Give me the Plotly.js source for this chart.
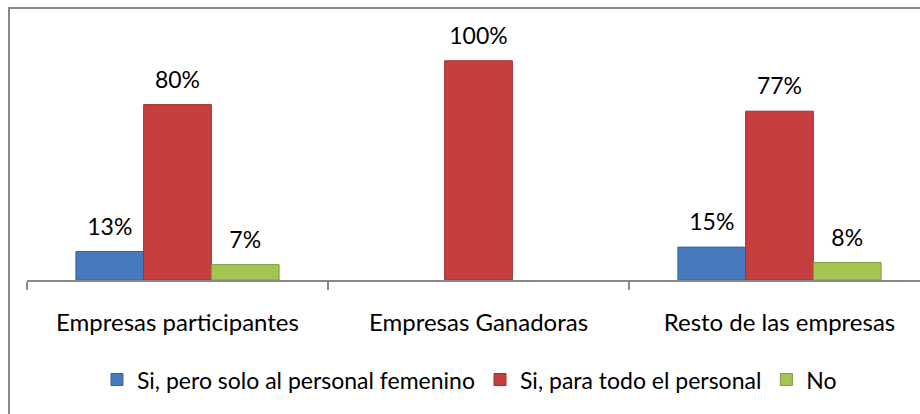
<!DOCTYPE html>
<html>
<head>
<meta charset="utf-8">
<script src="https://cdn.plot.ly/plotly-3.0.1.min.js"></script>
<style>
  html, body { margin: 0; padding: 0; width: 920px; height: 414px; overflow: hidden; background: #fff; }
  #frame { position: absolute; left: 8px; top: 7px; width: 1000px; height: 1000px; border: 2px solid #898989; box-sizing: border-box; }
  #chart { position: absolute; left: 0; top: 0; width: 930px; height: 414px; }
</style>
</head>
<body>
<div id="frame"></div>
<div id="chart"></div>
<script>
const categories = ["Empresas participantes", "Empresas Ganadoras", "Resto de las empresas"];
const seriesNames = ["Si, pero solo al personal femenino", "Si, para todo el personal", "No"];
const soloFemenino = [13, 0, 15];
const todoPersonal = [80, 100, 77];
const noValues = [7, 0, 8];

const seriesValues = [soloFemenino, todoPersonal, noValues];
const colors = ["#4679BD", "#C63F3E", "#A5C552"];
const edgeColors = ["#3A6399", "#9E3230", "#7F9A3C"];
const FONT = "Lato, 'Open Sans', sans-serif";

const traces = [];
seriesValues.forEach((vals, i) => {
  traces.push({
    type: "bar",
    name: seriesNames[i],
    x: categories,
    y: vals,
    offsetgroup: "g" + i,
    marker: { color: colors[i], line: { color: edgeColors[i], width: vals.map(v => v ? 1 : 0) } },
    hoverinfo: "none"
  });
});
seriesValues.forEach((vals, i) => {
  traces.push({
    type: "scatter",
    mode: "markers+text",
    x: categories,
    y: vals,
    offsetgroup: "g" + i,
    text: vals.map(v => v ? v + "%" : ""),
    textposition: "top center",
    textfont: { family: FONT, size: 23, color: "#000" },
    marker: { size: 16, opacity: 0 },
    showlegend: false,
    hoverinfo: "none",
    cliponaxis: false
  });
});

const layout = {
  width: 930,
  height: 414,
  margin: { l: 27, r: 0, t: 20, b: 134 },
  paper_bgcolor: "rgba(0,0,0,0)",
  plot_bgcolor: "rgba(0,0,0,0)",
  barmode: "group",
  bargap: 0.325,
  bargroupgap: 0,
  scattermode: "group",
  scattergap: 0.325,
  font: { family: FONT, size: 23, color: "#000" },
  xaxis: {
    type: "category",
    tickson: "boundaries",
    ticks: "outside",
    ticklen: 8,
    tickwidth: 2,
    tickcolor: "#898989",
    showline: true,
    linecolor: "#898989",
    linewidth: 2,
    showgrid: false,
    zeroline: false,
    ticklabelstandoff: 20,
    tickfont: { family: FONT, size: 24, color: "#000" },
    fixedrange: true
  },
  yaxis: {
    range: [0, 118.6],
    visible: false,
    showgrid: false,
    zeroline: false,
    fixedrange: true
  },
  showlegend: true,
  legend: {
    orientation: "h",
    x: 0.49,
    xanchor: "center",
    y: -0.383,
    yanchor: "middle",
    itemwidth: 30,
    font: { family: FONT, size: 23, color: "#000" },
    itemclick: false,
    itemdoubleclick: false
  }
};

Plotly.newPlot("chart", traces, layout, { displayModeBar: false, staticPlot: true });
</script>
</body>
</html>
